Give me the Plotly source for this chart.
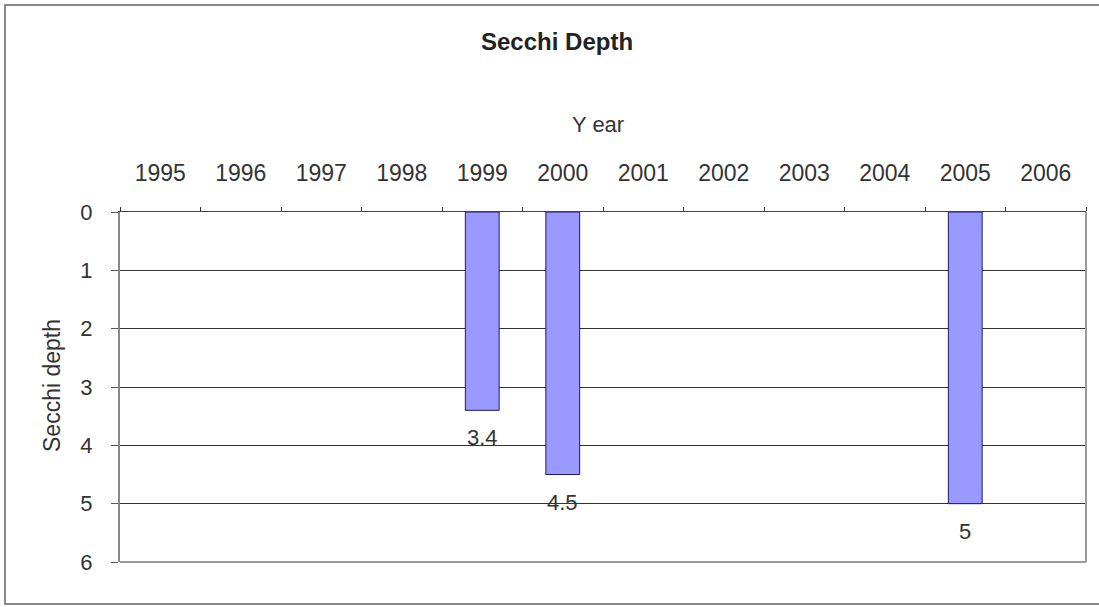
import plotly.graph_objects as go

years = ["1995", "1996", "1997", "1998", "1999", "2000", "2001", "2002", "2003", "2004", "2005", "2006"]
depths = [None, None, None, None, 3.4, 4.5, None, None, None, None, 5, None]
labels = ["", "", "", "", "3.4", "4.5", "", "", "", "", "5", ""]
y_ticks = [0, 1, 2, 3, 4, 5, 6]

W, H = 1099, 607
L, R, T, B = 120, 13, 212, 45
pw, ph = W - L - R, H - T - B

def px(x):
    return (x - L) / pw

def py(y):
    return (H - B - y) / ph

fig = go.Figure()
fig.add_trace(go.Bar(
    x=years, y=depths,
    marker=dict(color="#9999FF", line=dict(color="#1a1a6e", width=1)),
    width=0.42,
))

annotations = [
    dict(text="<b>Secchi Depth</b>", x=px(557), y=py(42), xref="paper", yref="paper",
         xanchor="center", yanchor="middle",
         showarrow=False, font=dict(size=24, color="#222222")),
    dict(text="Y ear", x=px(598), y=py(124), xref="paper", yref="paper",
         xanchor="center", yanchor="middle",
         showarrow=False, font=dict(size=22, color="#333333")),
    dict(text="Secchi depth", x=px(52), y=py(386), xref="paper", yref="paper",
         xanchor="center", yanchor="middle",
         showarrow=False, textangle=-90, font=dict(size=23, color="#333333")),
]
for i, (d, lab) in enumerate(zip(depths, labels)):
    if d is not None and lab:
        annotations.append(dict(
            text=lab, x=i, y=d, xref="x", yref="y", xanchor="center", yanchor="top",
            yshift=-13, showarrow=False, font=dict(size=22, color="#333333"),
        ))

fig.update_layout(
    width=W, height=H,
    margin=dict(l=L, r=R, t=T, b=B),
    paper_bgcolor="white", plot_bgcolor="white",
    showlegend=False,
    font=dict(family="Liberation Sans, Arial", color="#333333"),
    xaxis=dict(
        type="category", categoryorder="array", categoryarray=years,
        range=[-0.5, len(years) - 0.5], side="top", tickson="boundaries",
        ticks="outside", ticklen=4, tickcolor="#333333",
        showgrid=False, showline=True, linecolor="#444444", linewidth=1,
        tickfont=dict(size=23, color="#333333"), ticklabelstandoff=21,
        tickangle=0,
    ),
    yaxis=dict(
        range=[6, 0], tickvals=y_ticks, ticks="outside", ticklen=7,
        tickcolor="#555555", showgrid=True, gridcolor="#333333", gridwidth=1,
        showline=True, linecolor="#888888", linewidth=2,
        tickfont=dict(size=22, color="#333333"), zeroline=False,
        ticklabelstandoff=14,
    ),
    annotations=annotations,
    shapes=[
        dict(type="rect", xref="paper", yref="paper", x0=px(5), x1=px(1130), y0=py(604), y1=py(5),
             line=dict(color="#888888", width=2), layer="below"),
        dict(type="line", xref="paper", yref="paper", x0=1, x1=1, y0=0, y1=1,
             line=dict(color="#999999", width=2)),
        dict(type="line", xref="paper", yref="paper", x0=0, x1=1, y0=0, y1=0,
             line=dict(color="#999999", width=2)),
    ],
)

fig.write_html("out.html")
